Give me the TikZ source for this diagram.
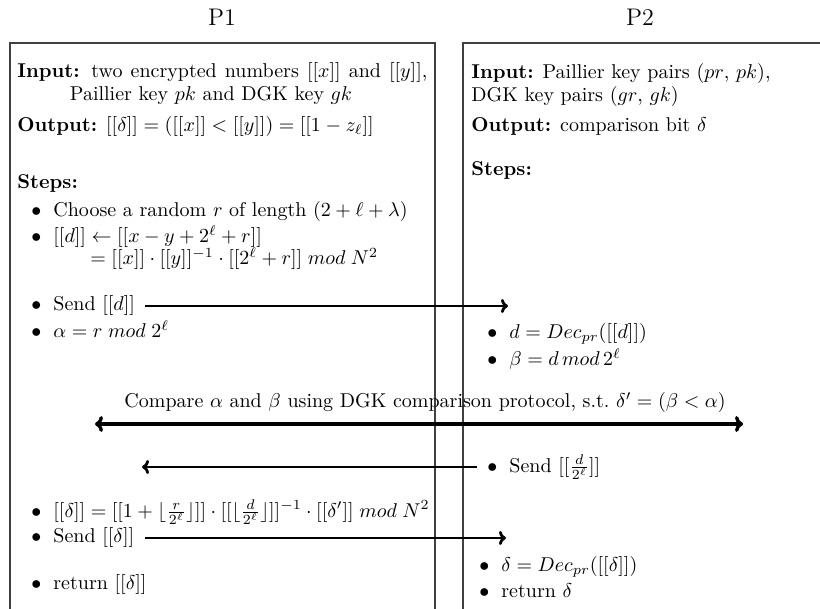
\documentclass[tikz,border=0pt]{standalone}
\usetikzlibrary{arrows.meta}
\newcommand{\mybul}{$\bullet$\hspace{6pt}}
\begin{document}
\begin{tikzpicture}[x=0.5pt,y=-0.5pt,
  txt/.style={inner sep=0pt,anchor=west,execute at begin node=\strut},
  txtn/.style={inner sep=0pt,anchor=west},
  ctxt/.style={inner sep=0pt,anchor=center,execute at begin node=\strut},
  party/.style={inner sep=0pt,anchor=center,font=\large},
  frame/.style={draw=black!75,line width=0.6pt},
  msg/.style={-{To[length=3.5pt,width=7pt]},line width=1.4pt},
  cmp/.style={{To[length=4pt,width=8pt]}-{To[length=4pt,width=8pt]},line width=1.7pt}]
\useasboundingbox (0,0) rectangle (820,609);
\clip (0,0) rectangle (820,609);
% party labels
\node[party] (p1) at (222,17) {P1};
\node[party] (p2) at (640,17) {P2};
% frames
\draw[frame] (10,43) rectangle (435,700);
\draw[frame] (463,43) rectangle (900,700);
% P1 texts
\node[txt] (in1a) at (17,73) {\makebox[205pt][s]{\textbf{Input:} two encrypted numbers $[[x]]$ and $[[y]]$,}};
\node[ctxt] (in1b) at (211,96) {Paillier key $pk$ and DGK key $gk$};
\node[txt] (out1) at (17,127) {\textbf{Output:} $[[\delta]] = ([[x]] < [[y]]) = [[1 - z_\ell]]$};
\node[txt] (st1) at (17,184) {\textbf{Steps:}};
\node[txt] (a1) at (31,212) {\mybul Choose a random $r$ of length $(2+\ell+\lambda)$};
\node[txt] (a2) at (31,238) {\mybul $[[d]] \leftarrow [[x-y+2^\ell+r]]$};
\node[txt] (a2b) at (90,260) {$= [[x]]\cdot[[y]]^{-1}\cdot[[2^\ell+r]]\; mod\; N^2$};
\node[txt] (a3) at (31,306) {\mybul Send $[[d]]$};
\node[txt] (a4) at (31,333) {\mybul $\alpha = r\; mod\; 2^\ell$};
\node[txtn] (a5) at (31,512) {\mybul $[[\delta]] = [[1+\lfloor\frac{r}{2^\ell}\rfloor]]\cdot[[\lfloor\frac{d}{2^\ell}\rfloor]]^{-1}\cdot[[\delta']]\; mod\; N^2$};
\node[txt] (a6) at (31,538) {\mybul Send $[[\delta]]$};
\node[txt] (a7) at (31,585) {\mybul return $[[\delta]]$};
% P2 texts
\node[txt] (in2a) at (471,74) {\textbf{Input:} Paillier key pairs $(pr$, $pk)$,};
\node[txt] (in2b) at (471,97) {DGK key pairs $(gr$, $gk)$};
\node[txt] (out2) at (471,127) {\textbf{Output:} comparison bit $\delta$};
\node[txt] (st2) at (471,171) {\textbf{Steps:}};
\node[txt] (b1) at (487,334) {\mybul $d = Dec_{pr}([[d]])$};
\node[txt] (b2) at (487,361) {\mybul $\beta = d\, mod\, 2^\ell$};
\node[txtn] (b3) at (487,467) {\mybul Send $[[\frac{d}{2^\ell}]]$};
\node[txt] (b4) at (479,567) {\mybul $\delta = Dec_{pr}([[\delta]])$};
\node[txt] (b5) at (479,593) {\mybul return $\delta$};
% comparison
\node[ctxt] (cmpt) at (425,403) {Compare $\alpha$ and $\beta$ using DGK comparison protocol, s.t.\ $\delta' = (\beta < \alpha)$};
\coordinate (cl) at (95,424);
\coordinate (cr) at (743,424);
\draw[cmp] (cl) -- (cr);
% messages
\coordinate (t1) at (508,306);
\draw[msg] ([xshift=5pt]a3.east) -- (a3.east -| t1);
\coordinate (t2) at (142,467);
\draw[msg] ([xshift=-5pt]b3.west) -- (b3.west -| t2);
\coordinate (t3) at (506,538);
\draw[msg] ([xshift=5pt]a6.east) -- (a6.east -| t3);
\end{tikzpicture}
\end{document}
